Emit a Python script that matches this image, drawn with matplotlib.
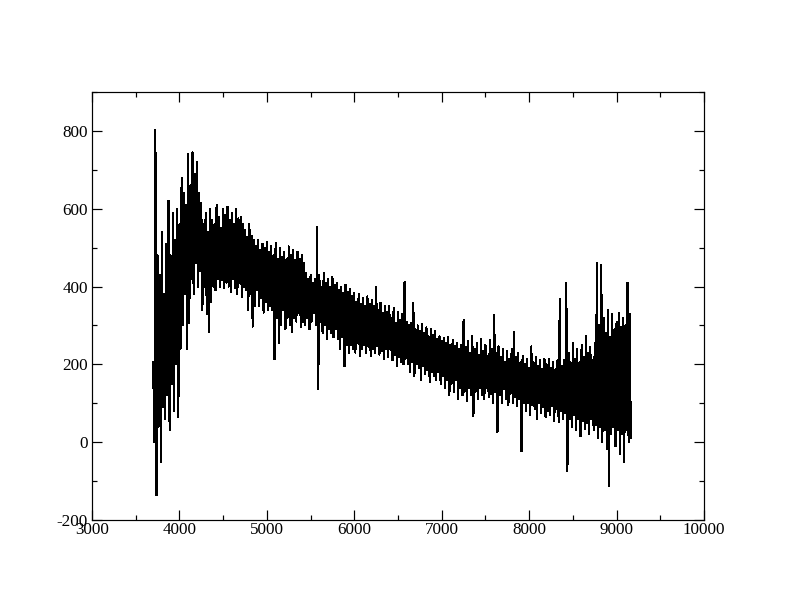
import numpy as np
import matplotlib
matplotlib.use("Agg")
import matplotlib.pyplot as plt
from matplotlib.ticker import MultipleLocator

# spectrum sampled every 12.5 A from 3700 A (pairs of high/low readings)
wave_start = 3700.0
wave_step = 12.5
flux = [
    205, 0, 802, -137, 480, 40, 430, -51,
    540, 90, 380, 60, 510, 120, 620, 30,
    480, 150, 590, 80, 520, 200, 600, 65,
    560, 240, 680, 300, 640, 380, 610, 240,
    740, 307, 660, 420, 745, 380, 690, 460,
    720, 400, 640, 440, 615, 340, 560, 400,
    590, 330, 540, 282, 600, 360, 570, 400,
    560, 390, 610, 420, 580, 400, 550, 418,
    600, 395, 585, 410, 605, 400, 570, 385,
    590, 420, 560, 395, 600, 380, 575, 410,
    580, 374, 560, 400, 545, 392, 528, 340,
    560, 380, 530, 297, 520, 350, 505, 392,
    520, 350, 495, 370, 510, 333, 500, 360,
    515, 340, 490, 350, 505, 340, 480, 213,
    513, 320, 470, 256, 500, 300, 477, 340,
    490, 290, 470, 320, 503, 300, 480, 282,
    495, 320, 469, 310, 490, 333, 470, 295,
    480, 310, 460, 300, 436, 320, 420, 290,
    430, 310, 410, 333, 420, 300, 554, 136,
    430, 310, 400, 280, 436, 300, 410, 264,
    420, 290, 400, 280, 425, 270, 405, 290,
    410, 264, 390, 240, 400, 270, 384, 195,
    405, 250, 385, 230, 395, 250, 375, 240,
    384, 230, 360, 256, 380, 221, 355, 240,
    370, 250, 349, 230, 375, 245, 355, 221,
    365, 240, 350, 230, 400, 246, 340, 225,
    359, 235, 333, 213, 350, 240, 335, 220,
    349, 238, 320, 210, 345, 225, 307, 195,
    335, 220, 315, 205, 330, 200, 413, 215,
    310, 200, 300, 180, 307, 205, 359, 170,
    290, 200, 300, 190, 285, 160, 305, 195,
    280, 175, 295, 185, 272, 154, 290, 180,
    275, 170, 285, 160, 265, 180, 272, 150,
    260, 170, 268, 140, 255, 160, 270, 120,
    250, 150, 262, 130, 246, 160, 255, 110,
    240, 140, 250, 120, 315, 130, 245, 105,
    260, 140, 230, 120, 272, 67, 240, 130,
    255, 110, 225, 140, 265, 120, 235, 110,
    250, 140, 221, 115, 262, 125, 240, 100,
    328, 130, 230, 26, 246, 120, 220, 100,
    240, 136, 205, 110, 235, 95, 215, 125,
    240, 100, 282, 115, 220, 92, 230, 110,
    205, -23, 221, 100, 200, 80, 215, 100,
    190, 70, 246, 95, 205, 85, 220, 59,
    195, 100, 210, 75, 187, 90, 215, 65,
    200, 80, 213, 70, 190, 92, 205, 55,
    187, 85, 210, 51, 367, 80, 195, 60,
    210, 75, 410, -74, 230, 60, 205, 40,
    256, 70, 215, 30, 240, 60, 205, 15,
    250, 55, 220, 35, 272, 50, 230, 20,
    245, 60, 210, 30, 255, 45, 461, 10,
    300, 40, 456, 0, 320, 30, 280, -18,
    341, -113, 270, 20, 330, 40, 290, -10,
    310, 30, 333, -30, 297, 20, 320, -51,
    300, 30, 410, 0, 330, 10,
]
wave = wave_start + wave_step * np.arange(len(flux))

plt.rcParams['font.family'] = ['Liberation Serif', 'DejaVu Serif']
plt.rcParams['axes.unicode_minus'] = False

fig = plt.figure(figsize=(11, 8.5), dpi=72)
ax = fig.add_axes([92/792, 1 - 520/612, 612/792, 428/612])
ax.plot(wave, flux, color='black', lw=1.1, antialiased=False)

ax.set_xlim(3000, 10000)
ax.set_ylim(-200, 900)
ax.xaxis.set_major_locator(MultipleLocator(1000))
ax.xaxis.set_minor_locator(MultipleLocator(500))
ax.yaxis.set_major_locator(MultipleLocator(200))
ax.yaxis.set_minor_locator(MultipleLocator(100))
ax.tick_params(which='both', direction='in', top=True, right=True,
               labelsize=17, width=1.2)
ax.tick_params(which='major', length=10)
ax.tick_params(which='minor', length=5)
ax.tick_params(axis='x', pad=2)
ax.tick_params(axis='y', pad=4)
for s in ax.spines.values():
    s.set_linewidth(1.2)

fig.savefig('out.png', dpi=72)
